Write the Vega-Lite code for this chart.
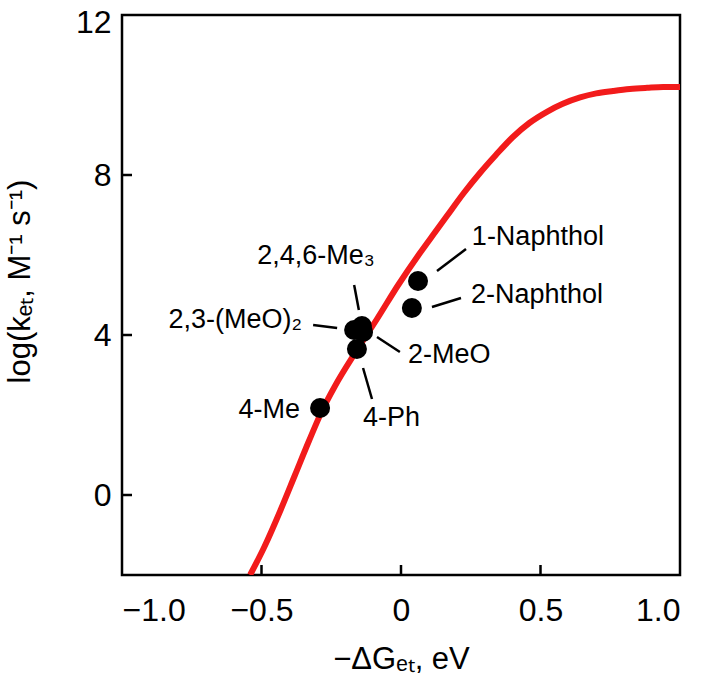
{
  "$schema": "https://vega.github.io/schema/vega-lite/v6.json",
  "width": 558,
  "height": 560,
  "autosize": "none",
  "padding": {"left": 122, "top": 15, "right": 26, "bottom": 110},
  "background": "white",
  "config": {
    "view": {"stroke": "black", "strokeWidth": 2.5},
    "font": "Liberation Sans",
    "axis": {
      "grid": false,
      "domain": false,
      "ticks": false,
      "labelFont": "Liberation Sans",
      "labelFontSize": 32,
      "labelColor": "black",
      "titleFont": "Liberation Sans",
      "titleFontSize": 31,
      "titleFontWeight": "normal",
      "titleColor": "black"
    }
  },
  "datasets": {
    "curve": [
      {"dG": -0.541, "logk": -2.0},
      {"dG": -0.49, "logk": -1.3},
      {"dG": -0.43, "logk": -0.35},
      {"dG": -0.38, "logk": 0.5},
      {"dG": -0.33, "logk": 1.35},
      {"dG": -0.28, "logk": 2.15},
      {"dG": -0.237, "logk": 2.72},
      {"dG": -0.16, "logk": 3.6},
      {"dG": -0.086, "logk": 4.4},
      {"dG": -0.01, "logk": 5.25},
      {"dG": 0.068, "logk": 6.05},
      {"dG": 0.12, "logk": 6.55},
      {"dG": 0.165, "logk": 6.98},
      {"dG": 0.225, "logk": 7.55},
      {"dG": 0.283, "logk": 8.05},
      {"dG": 0.34, "logk": 8.5},
      {"dG": 0.401, "logk": 8.95},
      {"dG": 0.46, "logk": 9.3},
      {"dG": 0.523, "logk": 9.58},
      {"dG": 0.58, "logk": 9.78},
      {"dG": 0.642, "logk": 9.94},
      {"dG": 0.70, "logk": 10.04},
      {"dG": 0.76, "logk": 10.1},
      {"dG": 0.82, "logk": 10.15},
      {"dG": 0.882, "logk": 10.18},
      {"dG": 0.94, "logk": 10.2},
      {"dG": 1.0, "logk": 10.2}
    ],
    "points": [
      {"name": "1-Naphthol", "dG": 0.061, "logk": 5.35},
      {"name": "2-Naphthol", "dG": 0.039, "logk": 4.675},
      {"name": "2,3-(MeO)₂", "dG": -0.168, "logk": 4.125},
      {"name": "2,4,6-Me₃", "dG": -0.14, "logk": 4.225},
      {"name": "2-MeO", "dG": -0.136, "logk": 4.075},
      {"name": "4-Ph", "dG": -0.158, "logk": 3.65},
      {"name": "4-Me", "dG": -0.29, "logk": 2.175}
    ],
    "leaders": [
      {"name": "1-Naphthol", "x1": 0.129, "y1": 5.6, "x2": 0.233, "y2": 6.15},
      {"name": "2-Naphthol", "x1": 0.111, "y1": 4.7, "x2": 0.215, "y2": 4.925},
      {"name": "2,4,6-Me₃", "x1": -0.168, "y1": 5.25, "x2": -0.151, "y2": 4.625},
      {"name": "2,3-(MeO)₂", "x1": -0.315, "y1": 4.25, "x2": -0.229, "y2": 4.175},
      {"name": "2-MeO", "x1": -0.086, "y1": 3.95, "x2": -0.004, "y2": 3.575},
      {"name": "4-Ph", "x1": -0.136, "y1": 3.175, "x2": -0.104, "y2": 2.4}
    ],
    "labels": [
      {"name": "1-Naphthol", "lx": 0.254, "ly": 6.45},
      {"name": "2-Naphthol", "lx": 0.251, "ly": 5.0},
      {"name": "2-MeO", "lx": 0.025, "ly": 3.5},
      {"name": "4-Ph", "lx": -0.136, "ly": 1.925},
      {"name": "2,3-(MeO)₂", "lx": -0.355, "ly": 4.375},
      {"name": "4-Me", "lx": -0.362, "ly": 2.125},
      {"name": "2,4,6-Me₃", "lx": -0.305, "ly": 5.975}
    ],
    "xticks": [{"v": -0.5}, {"v": 0}, {"v": 0.5}],
    "yticks": [{"v": 0}, {"v": 4}, {"v": 8}]
  },
  "layer": [
    {
      "data": {"name": "curve"},
      "mark": {"type": "line", "color": "#f21b1b", "strokeWidth": 6, "interpolate": "monotone", "clip": true},
      "encoding": {
        "x": {
          "field": "dG", "type": "quantitative",
          "scale": {"domain": [-1, 1], "nice": false, "zero": false},
          "axis": {
            "values": [-1, -0.5, 0, 0.5, 1],
            "labelExpr": "datum.value == 0 ? '0' : format(datum.value, '.1f')",
            "labelPadding": 20,
            "title": "−ΔGₑₜ, eV",
            "titlePadding": 18
          }
        },
        "y": {
          "field": "logk", "type": "quantitative",
          "scale": {"domain": [-2, 12], "nice": false, "zero": false},
          "axis": {
            "values": [0, 4, 8, 12],
            "labelPadding": 11,
            "labelFlush": true,
            "labelFlushOffset": 8,
            "title": "log(kₑₜ, M⁻¹ s⁻¹)",
            "titlePadding": 39,
            "titleY": 266
          }
        }
      }
    },
    {
      "data": {"name": "xticks"},
      "mark": {"type": "tick", "orient": "vertical", "size": 20, "thickness": 2.5, "color": "black", "opacity": 1, "clip": true},
      "encoding": {
        "x": {"field": "v", "type": "quantitative"},
        "y": {"datum": -2}
      }
    },
    {
      "data": {"name": "yticks"},
      "mark": {"type": "tick", "orient": "horizontal", "size": 20, "thickness": 2.5, "color": "black", "opacity": 1, "clip": true},
      "encoding": {
        "y": {"field": "v", "type": "quantitative"},
        "x": {"datum": -1}
      }
    },
    {
      "data": {"name": "leaders"},
      "mark": {"type": "rule", "color": "black", "strokeWidth": 2.5},
      "encoding": {
        "x": {"field": "x1", "type": "quantitative"},
        "y": {"field": "y1", "type": "quantitative"},
        "x2": {"field": "x2"},
        "y2": {"field": "y2"}
      }
    },
    {
      "data": {"name": "points"},
      "mark": {"type": "point", "shape": "circle", "filled": true, "color": "black", "opacity": 1, "size": 400},
      "encoding": {
        "x": {"field": "dG", "type": "quantitative"},
        "y": {"field": "logk", "type": "quantitative"}
      }
    },
    {
      "data": {"name": "labels"},
      "transform": [{"filter": "indexof(['1-Naphthol','2-Naphthol','2-MeO','4-Ph'], datum.name) >= 0"}],
      "mark": {"type": "text", "align": "left", "baseline": "middle", "fontSize": 27, "font": "Liberation Sans", "color": "black"},
      "encoding": {
        "x": {"field": "lx", "type": "quantitative"},
        "y": {"field": "ly", "type": "quantitative"},
        "text": {"field": "name"}
      }
    },
    {
      "data": {"name": "labels"},
      "transform": [{"filter": "indexof(['2,3-(MeO)₂','4-Me'], datum.name) >= 0"}],
      "mark": {"type": "text", "align": "right", "baseline": "middle", "fontSize": 27, "font": "Liberation Sans", "color": "black"},
      "encoding": {
        "x": {"field": "lx", "type": "quantitative"},
        "y": {"field": "ly", "type": "quantitative"},
        "text": {"field": "name"}
      }
    },
    {
      "data": {"name": "labels"},
      "transform": [{"filter": "datum.name == '2,4,6-Me₃'"}],
      "mark": {"type": "text", "align": "center", "baseline": "middle", "fontSize": 27, "font": "Liberation Sans", "color": "black"},
      "encoding": {
        "x": {"field": "lx", "type": "quantitative"},
        "y": {"field": "ly", "type": "quantitative"},
        "text": {"field": "name"}
      }
    }
  ]
}
